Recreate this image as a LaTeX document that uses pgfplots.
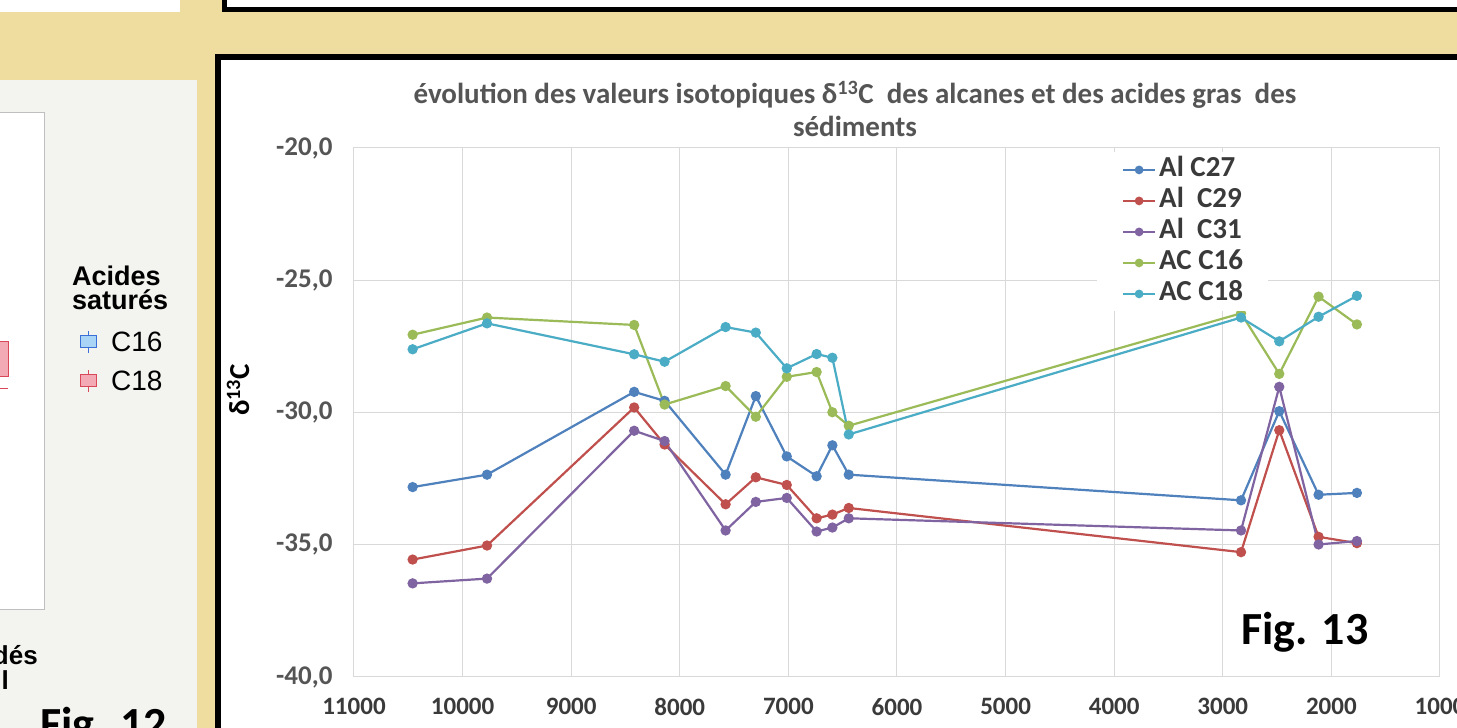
\documentclass[border=0pt]{standalone}
\usepackage{pgfplots}
\pgfplotsset{compat=1.18}
\usepackage{pgfplotstable}
\usepackage{fontspec}
\setmainfont{Carlito}
\newfontfamily\arial{Liberation Sans}
\definecolor{beige}{HTML}{EFDDA0}
\definecolor{panel}{HTML}{F3F3EF}
\definecolor{cA}{HTML}{4F81BD}
\definecolor{cB}{HTML}{C0504D}
\definecolor{cC}{HTML}{8064A2}
\definecolor{cD}{HTML}{9BBB59}
\definecolor{cE}{HTML}{4BACC6}
\definecolor{txt}{HTML}{555555}
\definecolor{xtxt}{HTML}{3A3A3A}
\definecolor{gridc}{HTML}{D9D9D9}
\definecolor{pinkf}{HTML}{F4AAB4}
\definecolor{pinkd}{HTML}{D9475A}
\definecolor{bluef}{HTML}{A9D4F5}
\definecolor{blued}{HTML}{3A6FD8}

\pgfplotstableread{
x      c27     c29     c31     c16     c18
10460  -32.82  -35.56  -36.46  -27.06  -27.61
9775   -32.35  -35.03  -36.28  -26.41  -26.63
8420   -29.22  -29.81  -30.69  -26.69  -27.80
8140   -29.56  -31.21  -31.08  -29.70  -28.08
7578   -32.35  -33.47  -34.46  -29.00  -26.77
7300   -29.38  -32.45  -33.38  -30.16  -26.98
7015   -31.66  -32.74  -33.23  -28.65  -28.33
6740   -32.41  -34.00  -34.50  -28.47  -27.79
6595   -31.24  -33.86  -34.35  -29.99  -27.93
6444   -32.35  -33.61  -34.00  -30.50  -30.83
2832   -33.32  -35.28  -34.46  -26.25  -26.41
2480   -29.95  -30.67  -29.03  -28.54  -27.31
2118   -33.11  -34.70  -34.99  -25.62  -26.38
1765   -33.04  -34.94  -34.86  -26.67  -25.59
}\datatable

\begin{document}
\begin{tikzpicture}[x=1pt,y=1pt]
\path[use as bounding box] (0,0) rectangle (1457,728);
\clip (0,0) rectangle (1457,728);
\fill[beige] (0,0) rectangle (1457,728);
% top-left white strip
\fill[white] (-5,716) rectangle (180,735);
% top panel
\filldraw[fill=white, draw=black, line width=5pt] (224.5,718) rectangle (1475,745);
% left panel
\fill[panel] (-5,-5) rectangle (197,648);
\filldraw[fill=white, draw=gray!50, line width=1pt] (-5,118) rectangle (44,615);
\filldraw[fill=pinkf, draw=pinkd, line width=0.8pt] (-5,352) rectangle (8,387);
\draw[pinkd, line width=0.8pt] (-5,340) -- (8,340);
\node[anchor=base west, inner sep=0pt, font=\arial\bfseries\fontsize{27}{27}\selectfont] at (72,442) {Acides};
\node[anchor=base west, inner sep=0pt, font=\arial\bfseries\fontsize{27}{27}\selectfont] at (72,418) {saturés};
% icons
\draw[blued, line width=1pt] (88,397) -- (88,375);
\filldraw[fill=bluef, draw=blued, line width=1pt] (80,380) rectangle (96,392);
\node[anchor=base west, inner sep=0pt, font=\arial\fontsize{28}{28}\selectfont] at (111,376) {C16};
\draw[pinkd, line width=1pt] (88,358) -- (88,336);
\filldraw[fill=pinkf, draw=pinkd, line width=1pt] (80,341) rectangle (96,353);
\node[anchor=base west, inner sep=0pt, font=\arial\fontsize{28}{28}\selectfont] at (111,337) {C18};
\node[anchor=base east, inner sep=0pt, font=\arial\bfseries\fontsize{26}{26}\selectfont] at (38,63) {dés};
\node[anchor=base east, inner sep=0pt, font=\arial\bfseries\fontsize{26}{26}\selectfont] at (9,38) {l};
\node[anchor=base west, inner sep=0pt, font=\bfseries\fontsize{46}{46}\selectfont] at (40,-12) {Fig. 12};
% right frame
\filldraw[fill=white, draw=black, line width=6pt] (218,-20) rectangle (1480,671);
% title
\node[align=center, font=\bfseries\fontsize{29}{33}\selectfont, text=txt] at (855,619)
  {évolution des valeurs isotopiques δ\textsuperscript{13}C\ \ des alcanes et des acides gras\ \ des\\sédiments};
\node[rotate=90, font=\bfseries\fontsize{29}{29}\selectfont] at (238,338) {δ\textsuperscript{13}C};
\begin{axis}[
  at={(354pt,51pt)}, anchor=south west,
  scale only axis, width=1086pt, height=529pt,
  x dir=reverse, xmin=1000, xmax=11000, ymin=-40, ymax=-20,
  xtick={1000,2000,...,11000}, ytick={-40,-35,-30,-25,-20},
  scaled x ticks=false, scaled y ticks=false,
  grid=major, major grid style={gridc, line width=1pt},
  axis line style={gridc, line width=1pt},
  major tick length=0pt,
  /pgf/number format/assume math mode=true,
  xticklabel style={font=\bfseries\fontsize{25}{25}\selectfont, text=xtxt, yshift=-18pt, /pgf/number format/1000 sep={}},
  yticklabel style={font=\bfseries\fontsize{27}{27}\selectfont, text=txt, xshift=-18pt,
     /pgf/number format/fixed, /pgf/number format/fixed zerofill, /pgf/number format/precision=1, /pgf/number format/use comma},
  every axis plot/.append style={line width=2.2pt, mark=*, mark size=4pt},
  legend image code/.code={\draw[mark repeat=2,mark phase=2,#1, mark size=3.2pt] plot coordinates {(0pt,0pt)(16pt,0pt)(32pt,0pt)};},
  legend style={at={(0.684,0.992)}, anchor=north west, fill=white, draw=none,
     inner xsep=25pt, inner ysep=4pt, row sep=4pt,
     font=\bfseries\fontsize{29}{29}\selectfont, text=xtxt,
     nodes={inner sep=0pt, text height=20pt, text depth=7pt}},
  legend cell align=left,
  /tikz/every odd column/.append style={column sep=3pt},
]
\addplot[cA] table[x=x, y=c27] {\datatable};
\addlegendentry{Al C27}
\addplot[cB] table[x=x, y=c29] {\datatable};
\addlegendentry{Al\ \ C29}
\addplot[cC] table[x=x, y=c31] {\datatable};
\addlegendentry{Al\ \ C31}
\addplot[cD] table[x=x, y=c16] {\datatable};
\addlegendentry{AC C16}
\addplot[cE] table[x=x, y=c18] {\datatable};
\addlegendentry{AC C18}
\end{axis}
\node[anchor=base, font=\bfseries\fontsize{46}{46}\selectfont] at (1305,83) {Fig. 13};
\end{tikzpicture}
\end{document}
